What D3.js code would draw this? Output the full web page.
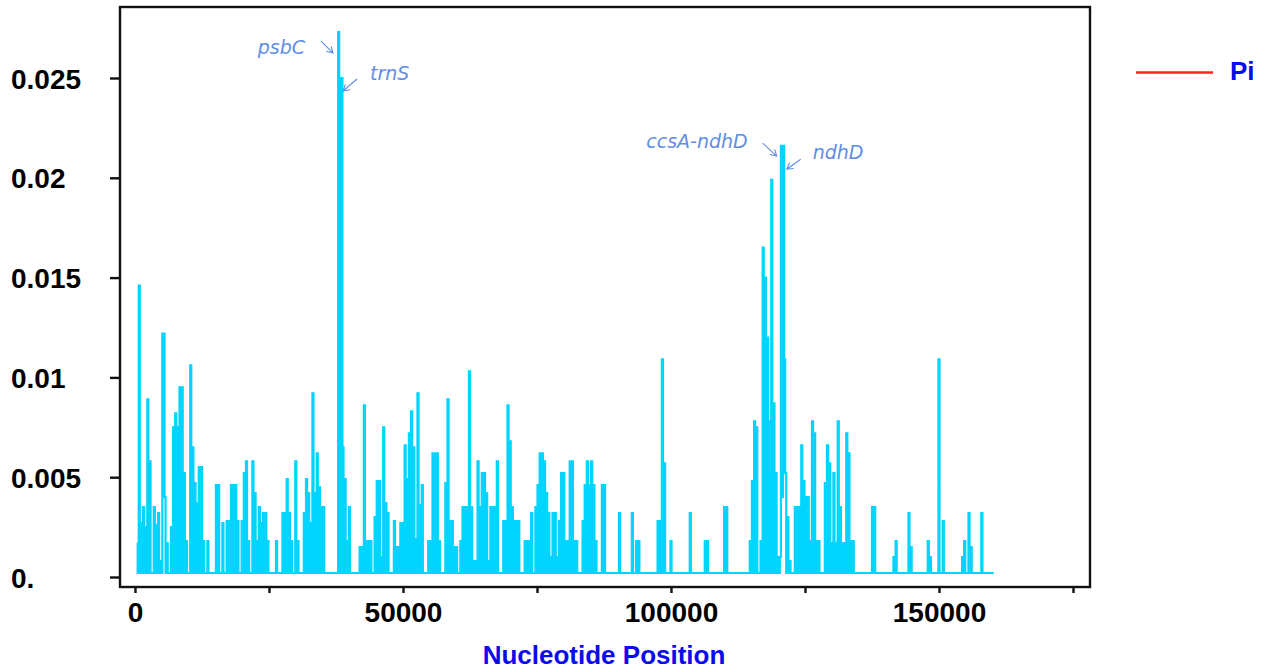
<!DOCTYPE html>
<html><head><meta charset="utf-8">
<script src="https://cdn.jsdelivr.net/npm/d3@7"></script>
<style>body{margin:0;background:#fff}svg{display:block}</style>
</head><body><svg id="c" width="1271" height="671"></svg>
<script>
// ---- data ----
const xTicks = [0, 25000, 50000, 75000, 100000, 125000, 150000, 175000];
const xTickLabels = ["0", "", "50000", "", "100000", "", "150000", ""];
const yTicks = [0, 0.005, 0.01, 0.015, 0.02, 0.025];
const yTickLabels = ["0.", "0.005", "0.01", "0.015", "0.02", "0.025"];
const seriesName = "Pi";
const xTitle = "Nucleotide Position";
const windowStart = 400;   // bp, midpoint of first window
const windowStep = 200;    // bp between window midpoints
const piValues = [
 .0017,.0002,.0146,.0002,.0027,.0002,.0035,.0002,.0025,.0002,.0089,.0002,.0058,.0002,.0002,.0002,.0035,.0002,.0026,.0002,
 .0032,.0002,.0008,.0002,.0122,.0122,.0040,.0002,.0017,.0002,.0002,.0002,.0025,.0002,.0075,.0002,.0082,.0002,.0075,.0002,
 .0095,.0002,.0095,.0002,.0052,.0002,.0018,.0002,.0002,.0002,.0106,.0002,.0065,.0002,.0047,.0002,.0037,.0002,.0055,.0002,
 .0055,.0002,.0018,.0002,.0002,.0002,.0018,.0002,.0002,.0002,.0002,.0002,.0002,.0002,.0046,.0002,.0046,.0002,.0002,.0002,
 .0027,.0002,.0002,.0002,.0028,.0002,.0028,.0002,.0046,.0002,.0046,.0002,.0046,.0002,.0028,.0002,.0002,.0002,.0028,.0002,
 .0052,.0002,.0058,.0002,.0018,.0002,.0002,.0002,.0058,.0002,.0042,.0002,.0018,.0002,.0035,.0002,.0027,.0002,.0032,.0002,
 .0032,.0002,.0018,.0002,.0002,.0002,.0002,.0002,.0002,.0002,.0018,.0002,.0002,.0002,.0002,.0002,.0032,.0002,.0032,.0002,
 .0049,.0002,.0032,.0002,.0018,.0002,.0002,.0002,.0058,.0002,.0018,.0002,.0002,.0002,.0002,.0002,.0032,.0002,.0049,.0002,
 .0042,.0002,.0027,.0002,.0092,.0002,.0042,.0002,.0062,.0002,.0045,.0002,.0035,.0002,.0035,.0002,.0002,.0002,.0002,.0002,
 .0002,.0002,.0002,.0002,.0002,.0002,.0002,.0002,.0273,.0250,.0002,.0250,.0065,.0002,.0049,.0002,.0018,.0002,.0035,.0002,
 .0002,.0002,.0002,.0002,.0002,.0002,.0002,.0002,.0015,.0002,.0015,.0002,.0086,.0002,.0018,.0002,.0018,.0002,.0018,.0002,
 .0002,.0002,.0030,.0002,.0048,.0002,.0048,.0002,.0010,.0002,.0075,.0002,.0037,.0002,.0032,.0002,.0002,.0002,.0002,.0002,
 .0028,.0002,.0015,.0002,.0015,.0002,.0027,.0002,.0027,.0002,.0066,.0002,.0049,.0002,.0072,.0002,.0083,.0002,.0065,.0002,
 .0019,.0002,.0092,.0002,.0036,.0002,.0046,.0002,.0002,.0002,.0002,.0002,.0018,.0002,.0018,.0002,.0062,.0002,.0062,.0002,
 .0062,.0002,.0018,.0002,.0002,.0002,.0002,.0002,.0047,.0002,.0089,.0002,.0028,.0002,.0028,.0002,.0015,.0002,.0015,.0002,
 .0002,.0002,.0018,.0002,.0035,.0002,.0035,.0002,.0035,.0002,.0103,.0002,.0035,.0002,.0008,.0002,.0008,.0002,.0058,.0002,
 .0035,.0002,.0052,.0002,.0052,.0002,.0042,.0002,.0008,.0002,.0035,.0002,.0035,.0002,.0035,.0002,.0058,.0002,.0002,.0002,
 .0002,.0002,.0028,.0002,.0028,.0002,.0086,.0002,.0068,.0002,.0035,.0002,.0028,.0002,.0028,.0002,.0028,.0002,.0002,.0002,
 .0002,.0002,.0018,.0002,.0018,.0002,.0018,.0002,.0032,.0002,.0002,.0002,.0035,.0002,.0046,.0002,.0062,.0002,.0062,.0002,
 .0058,.0002,.0042,.0002,.0032,.0002,.0010,.0002,.0032,.0002,.0032,.0002,.0010,.0002,.0028,.0002,.0052,.0002,.0052,.0002,
 .0018,.0002,.0018,.0002,.0058,.0002,.0058,.0002,.0018,.0002,.0018,.0002,.0002,.0002,.0002,.0002,.0028,.0002,.0046,.0002,
 .0058,.0002,.0046,.0002,.0058,.0002,.0046,.0002,.0018,.0002,.0002,.0002,.0002,.0002,.0046,.0002,.0046,.0002,.0002,.0002,
 .0002,.0002,.0002,.0002,.0002,.0002,.0002,.0002,.0002,.0002,.0032,.0002,.0002,.0002,.0002,.0002,.0002,.0002,.0002,.0002,
 .0002,.0002,.0032,.0002,.0002,.0002,.0018,.0002,.0018,.0002,.0002,.0002,.0002,.0002,.0002,.0002,.0002,.0002,.0002,.0002,
 .0002,.0002,.0002,.0002,.0002,.0002,.0028,.0002,.0028,.0002,.0109,.0002,.0057,.0002,.0002,.0002,.0002,.0002,.0018,.0002,
 .0002,.0002,.0002,.0002,.0002,.0002,.0002,.0002,.0002,.0002,.0002,.0002,.0002,.0002,.0002,.0002,.0032,.0002,.0002,.0002,
 .0002,.0002,.0002,.0002,.0002,.0002,.0002,.0002,.0002,.0002,.0018,.0002,.0018,.0002,.0002,.0002,.0002,.0002,.0002,.0002,
 .0002,.0002,.0002,.0002,.0002,.0002,.0002,.0002,.0035,.0002,.0035,.0002,.0002,.0002,.0002,.0002,.0002,.0002,.0002,.0002,
 .0002,.0002,.0002,.0002,.0002,.0002,.0002,.0002,.0002,.0002,.0002,.0002,.0018,.0002,.0048,.0002,.0078,.0002,.0075,.0002,
 .0002,.0002,.0018,.0002,.0165,.0002,.0150,.0002,.0120,.0002,.0078,.0002,.0199,.0002,.0087,.0002,.0052,.0002,.0010,.0002,
 .0010,.0216,.0040,.0216,.0109,.0052,.0002,.0030,.0002,.0008,.0002,.0002,.0002,.0002,.0035,.0002,.0035,.0002,.0035,.0002,
 .0066,.0002,.0048,.0002,.0040,.0002,.0040,.0002,.0018,.0002,.0078,.0002,.0072,.0002,.0018,.0002,.0018,.0002,.0002,.0002,
 .0002,.0002,.0047,.0002,.0066,.0002,.0057,.0002,.0017,.0002,.0052,.0002,.0017,.0002,.0078,.0002,.0035,.0002,.0017,.0002,
 .0017,.0002,.0072,.0002,.0062,.0002,.0018,.0002,.0018,.0002,.0002,.0002,.0002,.0002,.0002,.0002,.0002,.0002,.0002,.0002,
 .0002,.0002,.0002,.0002,.0002,.0002,.0035,.0002,.0035,.0002,.0002,.0002,.0002,.0002,.0002,.0002,.0002,.0002,.0002,.0002,
 .0002,.0002,.0002,.0002,.0002,.0002,.0010,.0002,.0018,.0002,.0002,.0002,.0002,.0002,.0002,.0002,.0002,.0002,.0002,.0002,
 .0032,.0002,.0015,.0002,.0002,.0002,.0002,.0002,.0002,.0002,.0002,.0002,.0002,.0002,.0002,.0002,.0002,.0002,.0018,.0002,
 .0010,.0002,.0002,.0002,.0002,.0002,.0002,.0002,.0109,.0002,.0002,.0002,.0028,.0002,.0002,.0002,.0002,.0002,.0002,.0002,
 .0002,.0002,.0002,.0002,.0002,.0002,.0002,.0002,.0002,.0002,.0010,.0002,.0018,.0002,.0002,.0002,.0032,.0002,.0015,.0002,
 .0002,.0002,.0002,.0002,.0002,.0002,.0002,.0002,.0032,.0002,.0002,.0002,.0002,.0002,.0002,.0002,.0002,.0002,.0002,.0002
];
const annotLabels = ["psbC", "trnS", "ccsA-ndhD", "ndhD"];
const annotPos    = [36940, 38810, 119720, 121590];
const annotPi     = [0.02625, 0.02435, 0.02109, 0.02043];

// ---- layout ----
const svg = d3.select("#c");
const frame = {l: 120, t: 7, r: 1090, b: 587};
const x = d3.scaleLinear().domain([0, 175000]).range([135, 1073]);
const y = d3.scaleLinear().domain([0, 0.025]).range([577, 78]);
const labelFont = "'Liberation Sans', Arial, sans-serif";

// frame
svg.append("rect").attr("x", frame.l).attr("y", frame.t)
  .attr("width", frame.r - frame.l).attr("height", frame.b - frame.t)
  .attr("fill", "none").attr("stroke", "#111").attr("stroke-width", 2.4);

// y axis
const yAxis = svg.append("g").attr("transform", `translate(${frame.l},0)`)
  .call(d3.axisLeft(y).tickValues(yTicks).tickSize(10)
    .tickFormat((d, i) => yTickLabels[i]));
yAxis.select(".domain").remove();
yAxis.selectAll(".tick line").attr("stroke", "#111").attr("stroke-width", 2.4);
yAxis.selectAll(".tick text")
  .attr("x", 11 - frame.l).attr("dy", "0.36em")
  .attr("text-anchor", "start")
  .style("font-family", labelFont).style("font-weight", "bold")
  .style("font-size", "28px").attr("fill", "#000");

// x axis
const xAxis = svg.append("g").attr("transform", `translate(0,${frame.b})`)
  .call(d3.axisBottom(x).tickValues(xTicks).tickSize(6)
    .tickFormat((d, i) => xTickLabels[i]));
xAxis.select(".domain").remove();
xAxis.selectAll(".tick line").attr("stroke", "#111").attr("stroke-width", 2.4);
xAxis.selectAll(".tick text").attr("y", 35).attr("dy", 0)
  .style("font-family", labelFont).style("font-weight", "bold")
  .style("font-size", "28px").attr("fill", "#000");

// x title
svg.append("text").attr("x", 604).attr("y", 664).attr("text-anchor", "middle")
  .style("font-family", labelFont).style("font-weight", "bold")
  .style("font-size", "26px").attr("fill", "#0a0af0").text(xTitle);

// series line
const series = piValues.map((v, i) => ({pos: windowStart + i * windowStep, pi: v}));
const line = d3.line().x(d => x(d.pos)).y(d => y(d.pi)).curve(d3.curveStep);
svg.append("path").datum(series).attr("d", line)
  .attr("fill", "none").attr("stroke", "#00d4ff").attr("stroke-width", 2.2)
  .attr("stroke-linejoin", "miter");

// annotations (text + open arrows)
const annColor = "#5f8de6";
const annStyle = [
  {tail: [-12, -12], tx: -28, ty: 1, anchor: "end"},
  {tail: [14, -12], tx: 27, ty: -11, anchor: "start"},
  {tail: [-14, -13], tx: -29, ty: -8, anchor: "end"},
  {tail: [14, -10], tx: 26, ty: -10, anchor: "start"}
];
annotLabels.forEach((lab, i) => {
  const px = x(annotPos[i]), py = y(annotPi[i]);
  const s = annStyle[i];
  const tx0 = px + s.tail[0], ty0 = py + s.tail[1];
  const ang = Math.atan2(ty0 - py, tx0 - px);
  const a = 7, spread = Math.PI / 6;
  const h1 = [px + a * Math.cos(ang + spread), py + a * Math.sin(ang + spread)];
  const h2 = [px + a * Math.cos(ang - spread), py + a * Math.sin(ang - spread)];
  svg.append("path")
    .attr("d", `M${tx0},${ty0}L${px},${py}M${h1[0]},${h1[1]}L${px},${py}L${h2[0]},${h2[1]}`)
    .attr("fill", "none").attr("stroke", annColor).attr("stroke-width", 1.1);
  svg.append("text").attr("x", px + s.tx).attr("y", py + s.ty)
    .attr("text-anchor", s.anchor)
    .style("font-family", "'DejaVu Sans', sans-serif").style("font-style", "italic")
    .style("font-size", "19px").attr("fill", annColor).text(lab);
});

// legend
svg.append("line").attr("x1", 1136).attr("x2", 1213).attr("y1", 72.5).attr("y2", 72.5)
  .attr("stroke", "#ff2020").attr("stroke-width", 2.5);
svg.append("text").attr("x", 1230).attr("y", 79.5)
  .style("font-family", labelFont).style("font-weight", "bold")
  .style("font-size", "26px").attr("fill", "#0a0af0").text(seriesName);
</script></body></html>
